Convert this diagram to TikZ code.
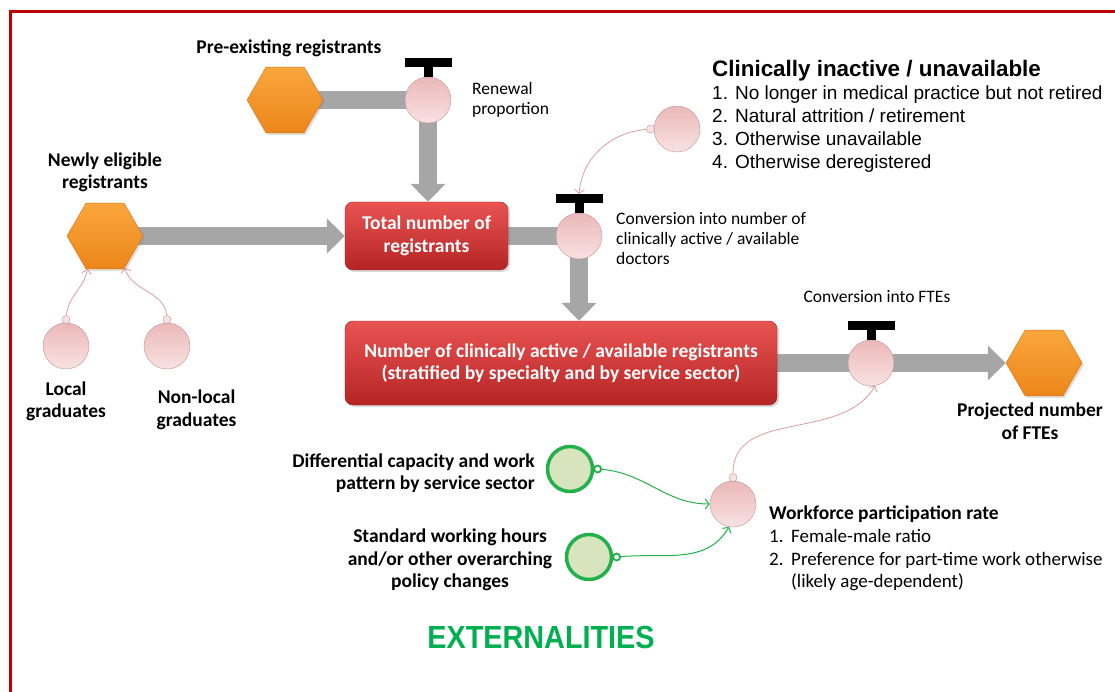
\documentclass[tikz,border=0pt]{standalone}
\usepackage{fontspec}
\setmainfont{Carlito}
\newfontfamily\arialfont{Liberation Sans}
\usetikzlibrary{positioning, calc, shapes.geometric, arrows.meta, backgrounds, shadows}
\definecolor{flow gray}{HTML}{A6A6A6}
\definecolor{frame red}{HTML}{C00000}
\definecolor{hex top}{HTML}{F9A63C}
\definecolor{hex bottom}{HTML}{EC861A}
\definecolor{hex line}{HTML}{D9761A}
\definecolor{box top}{HTML}{E85452}
\definecolor{box bottom}{HTML}{B52424}
\definecolor{box line}{HTML}{9E1E1E}
\definecolor{valve top}{HTML}{EBB8B8}
\definecolor{valve bottom}{HTML}{F9E2E2}
\definecolor{valve line}{HTML}{BE9494}
\definecolor{link pink}{HTML}{DE9C9C}
\definecolor{ext green}{HTML}{22B04B}
\definecolor{ext fill}{HTML}{D7E4BD}
\definecolor{ext text}{HTML}{00B050}
\newcommand{\lblsize}{\fontsize{19.5}{22.5}\selectfont}
\newcommand{\smallsize}{\fontsize{17.5}{20}\selectfont}
\tikzset{flow/.style={line width=18pt, flow gray}}
\tikzset{flow arrow/.style={flow, -{Triangle[width=34pt, length=18pt]}}}
\tikzset{stock/.style={rectangle, rounded corners=8pt, draw=box line, top color=box top, bottom color=box bottom, text=white, align=center, font=\lblsize\bfseries, drop shadow={shadow xshift=2pt, shadow yshift=-2pt, opacity=0.3}}}
\tikzset{hexa/.style={regular polygon, regular polygon sides=6, minimum size=76pt, inner sep=0pt, draw=hex line, top color=hex top, bottom color=hex bottom, drop shadow={shadow xshift=2pt, shadow yshift=-2pt, opacity=0.25}}}
\tikzset{valve/.style={circle, minimum size=46pt, inner sep=0pt, draw=valve line, top color=valve top, bottom color=valve bottom}}
\tikzset{knob/.style={circle, minimum size=8pt, inner sep=0pt, draw=valve line, fill=valve bottom}}
\tikzset{ext/.style={circle, minimum size=45pt, inner sep=0pt, line width=3.5pt, draw=ext green, fill=ext fill}}
\tikzset{ext knob/.style={circle, minimum size=7pt, inner sep=0pt, line width=1.8pt, draw=ext green, fill=white}}
\tikzset{link/.style={draw=link pink, line width=0.8pt, -{Straight Barb[length=4pt, width=10pt]}}}
\tikzset{ext link/.style={draw=ext green, line width=1pt, -{Straight Barb[length=4pt, width=10pt]}}}
\tikzset{lbl/.style={font=\lblsize\bfseries, align=center, inner sep=0pt}}
\tikzset{note/.style={font=\smallsize, align=left, inner sep=0pt}}

\begin{document}
\begin{tikzpicture}[x=1pt, y=1pt]
    \useasboundingbox (0,0) rectangle (1115,-692);
    \draw[frame red, line width=3pt] (1115,-12) -- (10,-12) -- (10,-692);

    % stocks and valves
    \node[hexa] (pre) at (285,-100) {};
    \node[hexa] (newly) at (105,-236) {};
    \node[hexa] (fte hex) at (1044,-363) {};
    \node[stock, minimum width=163pt, minimum height=68pt] (total) at (426.5,-236) {Total number of\\registrants};
    \node[stock, minimum width=432pt, minimum height=84pt] (active) at (561,-363) {Number of clinically active / available registrants\\(stratified by specialty and by service sector)};
    \node[valve] (renew) at (428,-100) {};
    \node[valve] (convert) at (579,-236) {};
    \node[valve] (fte) at (871,-363) {};
    \node[valve] (inact) at (677,-129) {};
    \node[valve] (local) at (66,-346) {};
    \node[valve] (nonlocal) at (167,-346) {};
    \node[valve] (work) at (733,-504) {};
    \node[ext] (diff) at (570,-469) {};
    \node[ext] (std) at (589,-557) {};

    \node[knob, left=-1pt of inact] (inact knob) {};
    \node[knob, above=-1pt of local] (local knob) {};
    \node[knob, above=-1pt of nonlocal] (nonlocal knob) {};
    \node[knob, above=-1pt of work] (work knob) {};
    \node[ext knob, right=-1pt of diff] (diff knob) {};
    \node[ext knob, right=-1pt of std] (std knob) {};

    \foreach \v in {renew, convert, fte} {
        \fill ($(\v.north)+(-4.5,0)$) rectangle ++(9,10);
        \fill ($(\v.north)+(-23.5,10)$) rectangle ++(47,9);
        \coordinate (valve-\v) at ($(\v.north)+(0,19)$);
    }

    % flows
    \begin{scope}[on background layer]
        \draw[flow] (pre.center) -- (renew.center);
        \draw[flow arrow] (renew.center) -- (renew.center |- total.north);
        \draw[flow arrow] (newly.center) -- (newly.center -| total.west);
        \draw[flow] (total.center) -- (convert.center);
        \draw[flow arrow] (convert.center) -- (convert.center |- active.north);
        \draw[flow] (active.center) -- (fte.center);
        \draw[flow arrow] (fte.center) -- (fte hex.west);
    \end{scope}

    % influences
    \draw[link] (local knob) to[out=85, in=-100] (newly.-118);
    \draw[link] (nonlocal knob) to[out=95, in=-75] (newly.-58);
    \draw[link] (inact knob) to[out=185, in=85] (valve-convert);
    \draw[link] (work knob) to[out=90, in=-120] (fte.-80);
    \draw[ext link] (diff knob) to[out=-5, in=180] (work.west);
    \draw[ext link] (std knob) to[out=5, in=-120] (work.-100);

    % labels
    \node[lbl, anchor=base] (pre label) at (289,-54) {Pre-existing registrants};
    \node[lbl] (newly label) at (105,-172.5) {Newly eligible\\registrants};
    \node[note, anchor=west] (renew label) at (472,-99.5) {Renewal\\proportion};
    \node[note, anchor=west] (convert label) at (616,-238) {Conversion into number of\\clinically active / available\\doctors};
    \node[note, anchor=base] (fte label) at (877,-302) {Conversion into FTEs};
    \node[lbl] (fte hex label) at (1030,-421) {Projected number\\of FTEs};
    \node[lbl] (local label) at (66,-401.5) {Local\\graduates};
    \node[lbl] (nonlocal label) at (196.5,-410) {Non-local\\graduates};
    \node[lbl, anchor=east, align=right] (diff label) at (535,-473) {Differential capacity and work\\pattern by service sector};
    \node[lbl] (std label) at (450,-560) {Standard working hours\\and/or other overarching\\policy changes};
    \node[note, anchor=west, font=\arialfont\fontsize{19}{23}\selectfont] (inact label) at (712,-116)
        {{\fontsize{22.4}{24}\selectfont\bfseries Clinically inactive / unavailable}\\
         1. No longer in medical practice but not retired\\
         2. Natural attrition / retirement\\
         3. Otherwise unavailable\\
         4. Otherwise deregistered};
    \node[note, anchor=west, font=\fontsize{19}{22.7}\selectfont] (work label) at (769,-548.5)
        {{\fontsize{19.5}{22.7}\selectfont\bfseries Workforce participation rate}\\
         \makebox[22pt][l]{1.}Female-male ratio\\
         \makebox[22pt][l]{2.}Preference for part-time work otherwise\\
         \makebox[22pt]{}(likely age-dependent)};
    \node[anchor=base, inner sep=0pt, text=ext text, font=\arialfont\bfseries\fontsize{32}{32}\selectfont] (ext label) at (541,-648) {\scalebox{0.9}[1]{EXTERNALITIES}};
\end{tikzpicture}
\end{document}
